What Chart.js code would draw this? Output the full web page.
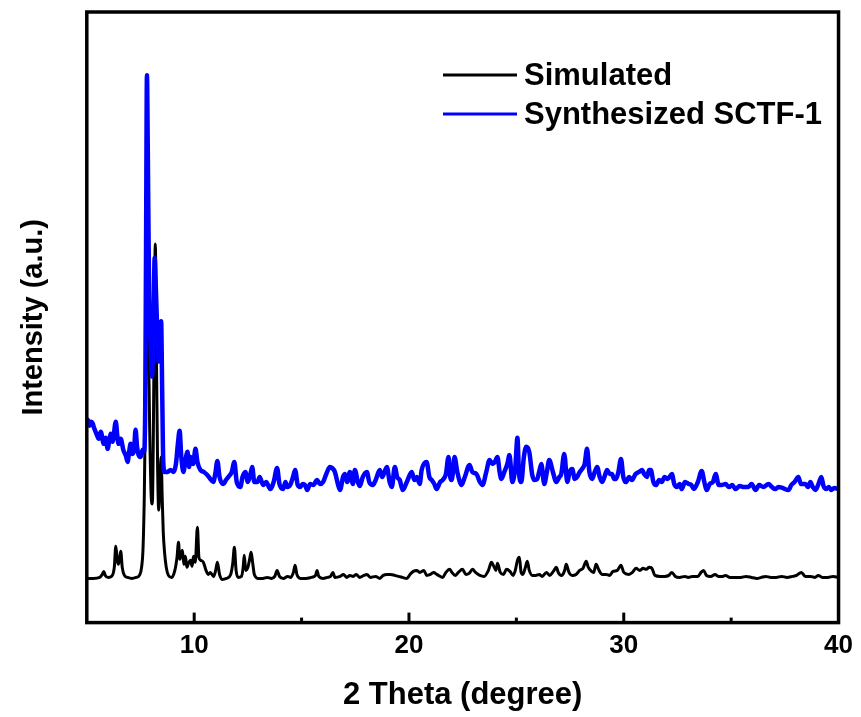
<!DOCTYPE html>
<html>
<head>
<meta charset="utf-8">
<script src="https://cdn.jsdelivr.net/npm/chart.js@4.4.1/dist/chart.umd.min.js"></script>
<style>
  html, body { margin: 0; padding: 0; background: #fff; }
</style>
</head>
<body>
<canvas id="xrdChart" width="861" height="717"></canvas>
<script>
// 2 theta (degree), intensity (a.u.)
var simulated = [
  [5.00, 44], [5.30, 44], [5.60, 45], [5.72, 48], [5.79, 51], [5.86, 47], [6.00, 45], [6.15, 46],
  [6.28, 55], [6.35, 76], [6.42, 62], [6.47, 58], [6.53, 64], [6.58, 71], [6.65, 55], [6.75, 47],
  [6.90, 45], [7.10, 44], [7.30, 45], [7.45, 47], [7.55, 55], [7.62, 75], [7.68, 130], [7.74, 240],
  [7.80, 330], [7.86, 290], [7.93, 190], [8.00, 125], [8.05, 118], [8.10, 190], [8.15, 320], [8.19, 377],
  [8.24, 270], [8.30, 150], [8.35, 112], [8.41, 140], [8.46, 165], [8.51, 125], [8.56, 90], [8.62, 70],
  [8.70, 55], [8.80, 47], [8.95, 45], [9.10, 52], [9.20, 65], [9.27, 80], [9.33, 63], [9.40, 68],
  [9.45, 72], [9.52, 58], [9.59, 66], [9.66, 55], [9.75, 60], [9.83, 62], [9.90, 56], [9.97, 66],
  [10.05, 60], [10.15, 95], [10.22, 65], [10.30, 62], [10.43, 60], [10.55, 52], [10.65, 48], [10.75, 50],
  [10.90, 46], [11.00, 52], [11.08, 60], [11.18, 48], [11.30, 43], [11.50, 44], [11.70, 48], [11.80, 60],
  [11.87, 75], [11.95, 52], [12.05, 45], [12.20, 46], [12.28, 55], [12.33, 67], [12.40, 52], [12.50, 55],
  [12.58, 63], [12.65, 70], [12.72, 60], [12.80, 48], [13.00, 44], [13.20, 44], [13.40, 45], [13.60, 44],
  [13.75, 46], [13.86, 52], [13.97, 46], [14.15, 44], [14.35, 46], [14.50, 45], [14.62, 50], [14.70, 57],
  [14.78, 48], [14.95, 44], [15.20, 44], [15.45, 45], [15.65, 47], [15.72, 52], [15.80, 46], [16.00, 44],
  [16.20, 45], [16.35, 46], [16.46, 50], [16.55, 45], [16.80, 46], [16.95, 48], [17.10, 45], [17.25, 47],
  [17.40, 46], [17.55, 48], [17.70, 45], [17.90, 47], [18.04, 48], [18.20, 45], [18.45, 46], [18.64, 44],
  [18.80, 47], [18.97, 48], [19.15, 48], [19.34, 47], [19.50, 46], [19.70, 45], [19.90, 44], [20.05, 48],
  [20.20, 51], [20.36, 52], [20.50, 50], [20.70, 52], [20.82, 47], [21.00, 48], [21.15, 50], [21.30, 48],
  [21.57, 45], [21.72, 50], [21.89, 53], [22.00, 50], [22.15, 47], [22.30, 50], [22.49, 53], [22.65, 48],
  [22.80, 49], [22.96, 53], [23.10, 50], [23.30, 47], [23.50, 46], [23.70, 52], [23.84, 60], [23.95, 56],
  [24.05, 52], [24.12, 59], [24.25, 50], [24.40, 48], [24.54, 53], [24.70, 51], [24.85, 47], [24.95, 52],
  [25.05, 62], [25.14, 65], [25.22, 50], [25.30, 48], [25.42, 55], [25.51, 61], [25.60, 52], [25.75, 47],
  [25.90, 47], [26.07, 48], [26.20, 46], [26.40, 50], [26.55, 47], [26.72, 51], [26.86, 55], [26.95, 50],
  [27.10, 47], [27.25, 52], [27.32, 58], [27.45, 50], [27.60, 47], [27.78, 48], [27.95, 52], [28.10, 54],
  [28.25, 61], [28.35, 55], [28.50, 51], [28.60, 50], [28.71, 58], [28.85, 52], [29.00, 48], [29.18, 48],
  [29.35, 47], [29.50, 51], [29.70, 52], [29.87, 57], [30.00, 50], [30.24, 48], [30.40, 50], [30.57, 54],
  [30.75, 52], [30.90, 54], [31.05, 53], [31.18, 55], [31.31, 54], [31.45, 47], [31.70, 46], [31.90, 46],
  [32.10, 47], [32.24, 50], [32.40, 46], [32.60, 45], [32.85, 46], [33.00, 45], [33.20, 46], [33.45, 46],
  [33.60, 50], [33.72, 52], [33.85, 47], [34.05, 46], [34.25, 48], [34.40, 46], [34.60, 46], [34.74, 47],
  [34.95, 45], [35.20, 45], [35.45, 45], [35.70, 46], [35.95, 45], [36.20, 44], [36.40, 45], [36.60, 46],
  [36.85, 45], [37.10, 45], [37.35, 46], [37.60, 45], [37.85, 46], [38.05, 47], [38.27, 50], [38.45, 46],
  [38.70, 46], [38.90, 45], [39.06, 47], [39.25, 45], [39.50, 45], [39.75, 46], [40.00, 45]
];

var synthesized = [
  [5.00, 200], [5.05, 202], [5.12, 196], [5.19, 200], [5.28, 198], [5.32, 195], [5.45, 188], [5.56, 183],
  [5.65, 190], [5.79, 178], [5.88, 184], [5.97, 173], [6.05, 182], [6.11, 188], [6.20, 180], [6.35, 200],
  [6.42, 186], [6.48, 178], [6.58, 183], [6.70, 172], [6.82, 166], [6.90, 160], [6.97, 170], [7.04, 178],
  [7.12, 168], [7.20, 172], [7.27, 192], [7.34, 175], [7.41, 167], [7.51, 165], [7.60, 172], [7.66, 170],
  [7.72, 215], [7.76, 380], [7.80, 545], [7.84, 470], [7.90, 330], [7.97, 280], [8.04, 245], [8.10, 290],
  [8.16, 363], [8.22, 330], [8.28, 290], [8.34, 260], [8.40, 270], [8.46, 300], [8.51, 230], [8.56, 160],
  [8.62, 150], [8.70, 150], [8.76, 150], [8.90, 152], [9.04, 150], [9.15, 158], [9.25, 180], [9.32, 191],
  [9.40, 165], [9.50, 150], [9.58, 160], [9.69, 170], [9.76, 155], [9.83, 165], [9.95, 158], [10.06, 173],
  [10.15, 160], [10.29, 152], [10.45, 150], [10.61, 147], [10.75, 143], [10.89, 140], [10.98, 148], [11.08, 161],
  [11.18, 145], [11.36, 138], [11.48, 142], [11.59, 145], [11.75, 150], [11.87, 160], [11.98, 140], [12.15, 135],
  [12.25, 145], [12.38, 150], [12.50, 140], [12.62, 148], [12.70, 155], [12.80, 140], [12.94, 140], [13.05, 145],
  [13.21, 137], [13.35, 140], [13.54, 133], [13.70, 140], [13.86, 154], [13.97, 138], [14.14, 133], [14.25, 140],
  [14.33, 135], [14.47, 137], [14.60, 145], [14.70, 152], [14.82, 137], [14.93, 135], [15.05, 138], [15.16, 137],
  [15.26, 132], [15.40, 138], [15.55, 137], [15.72, 142], [15.85, 138], [16.00, 140], [16.15, 148], [16.32, 155],
  [16.42, 154], [16.55, 150], [16.69, 138], [16.79, 132], [16.93, 145], [17.02, 148], [17.12, 140], [17.25, 150],
  [17.39, 138], [17.48, 152], [17.62, 140], [17.71, 136], [17.85, 145], [18.04, 150], [18.15, 140], [18.32, 137],
  [18.45, 142], [18.64, 152], [18.75, 145], [18.97, 155], [19.10, 140], [19.20, 135], [19.34, 155], [19.45, 145],
  [19.57, 142], [19.71, 132], [19.90, 140], [20.13, 150], [20.25, 142], [20.36, 145], [20.50, 138], [20.59, 152],
  [20.82, 160], [20.95, 145], [21.06, 142], [21.18, 138], [21.29, 133], [21.45, 140], [21.57, 142], [21.72, 148],
  [21.84, 165], [21.92, 145], [21.98, 142], [22.05, 150], [22.12, 165], [22.25, 150], [22.45, 137], [22.60, 145],
  [22.82, 157], [22.95, 150], [23.14, 148], [23.30, 140], [23.42, 137], [23.60, 150], [23.75, 162], [23.89, 158],
  [24.00, 160], [24.12, 165], [24.22, 150], [24.30, 143], [24.44, 150], [24.58, 158], [24.68, 167], [24.81, 140],
  [24.95, 155], [25.05, 184], [25.12, 150], [25.23, 140], [25.35, 165], [25.46, 175], [25.60, 170], [25.74, 147],
  [25.85, 142], [25.97, 143], [26.06, 150], [26.16, 158], [26.30, 138], [26.42, 150], [26.53, 162], [26.70, 150],
  [26.86, 140], [27.00, 145], [27.09, 148], [27.23, 168], [27.37, 140], [27.48, 150], [27.60, 153], [27.72, 143],
  [27.83, 145], [27.95, 150], [28.06, 153], [28.18, 158], [28.29, 173], [28.40, 150], [28.53, 143], [28.65, 150],
  [28.76, 155], [28.88, 145], [28.99, 140], [29.10, 145], [29.22, 152], [29.35, 148], [29.45, 148], [29.55, 143],
  [29.64, 143], [29.75, 150], [29.87, 163], [29.98, 145], [30.10, 140], [30.25, 145], [30.38, 142], [30.55, 148],
  [30.71, 150], [30.85, 152], [30.95, 148], [31.08, 145], [31.18, 152], [31.26, 152], [31.38, 140], [31.50, 137],
  [31.65, 142], [31.77, 140], [31.90, 145], [32.05, 143], [32.24, 148], [32.35, 138], [32.47, 135], [32.60, 138],
  [32.70, 133], [32.85, 140], [33.03, 138], [33.15, 137], [33.26, 133], [33.45, 140], [33.63, 151], [33.75, 140],
  [33.86, 132], [34.00, 138], [34.15, 140], [34.28, 148], [34.42, 137], [34.55, 137], [34.74, 138], [34.90, 135],
  [35.05, 137], [35.21, 133], [35.40, 136], [35.60, 135], [35.80, 135], [35.95, 138], [36.14, 132], [36.30, 137],
  [36.50, 135], [36.74, 138], [36.90, 135], [37.05, 133], [37.20, 135], [37.40, 134], [37.67, 132], [37.80, 137],
  [37.95, 140], [38.13, 145], [38.25, 138], [38.46, 138], [38.58, 135], [38.69, 140], [38.80, 135], [38.92, 132],
  [39.05, 137], [39.20, 145], [39.30, 136], [39.43, 133], [39.55, 135], [39.66, 132], [39.80, 134], [40.00, 133]
];

var seriesNames = ["Simulated", "Synthesized SCTF-1"];
var tickMarks = [10, 15, 20, 25, 30, 35];
var tickLabels = [10, 20, 30, 40];

var font = "'Liberation Sans', Arial, Helvetica, sans-serif";

function toPoints(list) {
  return list.map(function(p) { return { x: p[0], y: p[1] }; });
}

// box frame + inward ticks like the Origin plot
var frameTicks = {
  id: "frameTicks",
  afterDraw: function(chart) {
    var ctx = chart.ctx, a = chart.chartArea, xs = chart.scales.x;
    ctx.save();
    ctx.strokeStyle = "#000";
    ctx.lineWidth = 3.5;
    ctx.strokeRect(a.left, a.top, a.right - a.left, a.bottom - a.top);
    ctx.lineWidth = 3;
    tickMarks.forEach(function(t) {
      var x = xs.getPixelForValue(t);
      var len = t % 10 === 0 ? 10 : 5;
      ctx.beginPath();
      ctx.moveTo(x, a.bottom);
      ctx.lineTo(x, a.bottom - len);
      ctx.stroke();
    });
    ctx.restore();
  }
};

// legend sitting inside the plot, top right
var insideLegend = {
  id: "insideLegend",
  afterDraw: function(chart) {
    var ctx = chart.ctx;
    ctx.save();
    ctx.font = "bold 31px " + font;
    ctx.textBaseline = "middle";
    ctx.textAlign = "left";
    chart.data.datasets.forEach(function(ds, i) {
      var y = 75 + i * 39;
      ctx.strokeStyle = ds.borderColor;
      ctx.lineWidth = 3;
      ctx.beginPath();
      ctx.moveTo(443, y);
      ctx.lineTo(517, y);
      ctx.stroke();
      ctx.fillStyle = "#000";
      ctx.fillText(ds.label, 524, y + 1);
    });
    ctx.restore();
  }
};

var ctx = document.getElementById("xrdChart");
var xrdChart = new Chart(ctx, {
  type: "line",
  data: {
    datasets: [
      {
        label: seriesNames[0],
        data: toPoints(simulated),
        borderColor: "#000000",
        borderWidth: 3,
        pointRadius: 0,
        cubicInterpolationMode: "monotone",
        order: 1
      },
      {
        label: seriesNames[1],
        data: toPoints(synthesized),
        borderColor: "#0000ff",
        borderWidth: 4.5,
        pointRadius: 0,
        cubicInterpolationMode: "monotone",
        order: 0
      }
    ]
  },
  options: {
    responsive: false,
    animation: false,
    layout: { padding: { top: 12, right: 20, bottom: 3, left: 0 } },
    plugins: {
      legend: { display: false },
      tooltip: { enabled: false }
    },
    scales: {
      x: {
        type: "linear",
        min: 5,
        max: 40,
        border: { display: false },
        grid: { display: false, drawTicks: false },
        ticks: {
          stepSize: 5,
          padding: 8,
          color: "#000",
          font: { family: font, size: 26, weight: "bold" },
          callback: function(v) { return tickLabels.indexOf(v) >= 0 ? String(v) : ""; }
        },
        title: {
          display: true,
          text: "2 Theta (degree)",
          color: "#000",
          font: { family: font, size: 31, weight: "bold" },
          padding: { top: 7, bottom: 0 }
        }
      },
      y: {
        min: 0,
        max: 608,
        border: { display: false },
        grid: { display: false, drawTicks: false },
        ticks: { display: false },
        title: {
          display: true,
          text: "Intensity (a.u.)",
          color: "#000",
          font: { family: font, size: 29, weight: "bold" },
          padding: { top: 17, bottom: 35 }
        }
      }
    }
  },
  plugins: [frameTicks, insideLegend]
});
</script>
</body>
</html>
